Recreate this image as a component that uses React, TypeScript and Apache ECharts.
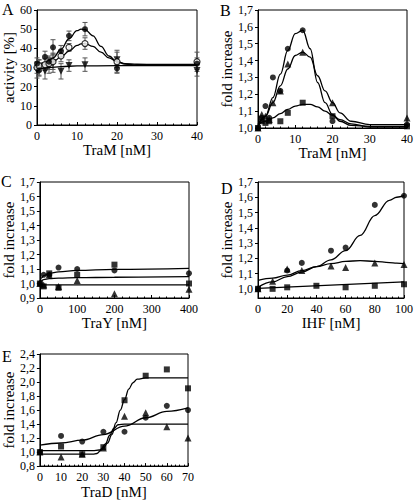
import React, { useEffect, useRef } from 'react';
import * as echarts from 'echarts';

// ---------- Panel A (activity vs TraM) ----------
const aX = [0, 0.5, 2, 3, 4, 6, 8, 12, 20, 40];
const aFilled = [32, 28.5, 35.5, 33, 40.5, 38.5, 46.5, 50, 29.5, 32];
const aFilledErr = [3, 3, 3, 3, 4, 3, 2.5, 3.5, 2, 3];
const aOpen = [30, 31, 31.5, 32, 33, 36, 40.5, 42.5, 33, 33];
const aOpenErr = [3, 3, 3, 3, 4, 3, 2, 3, 6, 5];
const aInv = [28.5, 30, 28, 31, 32.5, 28, 31, 31.5, 34, 28.5];
const aInvErr = [4, 4, 4, 4, 5, 4, 3, 3.5, 4, 3];
const aFitX = [0, 2, 4, 6, 8, 10, 11, 12, 14, 16, 18, 20, 22, 25, 30, 40];
const aFitFilled = [31.5, 32.5, 35, 39.5, 45, 49.2, 50, 49.8, 46.5, 41, 36, 33, 31.8, 31.3, 31.2, 31.2];
const aFitOpen = [30.5, 31.5, 33, 35.5, 38.5, 41.5, 42.3, 42.5, 41, 38, 35, 33, 32, 31.7, 31.6, 31.6];
const aFitInvX = [0, 3, 6, 10, 20, 40];
const aFitInv = [29, 30, 30.5, 30.8, 31, 31];

// ---------- Panel B (fold increase vs TraM) ----------
const bX = [0, 1, 2, 3, 4, 6, 8, 12, 20, 40];
const bCirc = [1.0, 1.06, 1.13, 1.06, 1.3, 1.22, 1.47, 1.58, 1.04, 1.02];
const bTri = [1.0, 1.08, 1.07, 1.05, 1.15, 1.22, 1.38, 1.45, 1.15, 1.06];
const bSq = [1.0, 1.04, 1.03, 1.04, null, 1.04, 1.09, 1.15, 1.07, 1.01];
const bFitX = [0, 2, 4, 6, 8, 10, 12, 14, 16, 18, 20, 22, 25, 30, 40];
const bFitCirc = [1.0, 1.07, 1.18, 1.32, 1.46, 1.56, 1.58, 1.47, 1.27, 1.15, 1.08, 1.04, 1.015, 1.01, 1.01];
const bFitTri = [1.02, 1.07, 1.15, 1.25, 1.35, 1.43, 1.45, 1.42, 1.31, 1.22, 1.15, 1.09, 1.04, 1.02, 1.02];
const bFitSq = [1.02, 1.04, 1.06, 1.085, 1.11, 1.13, 1.14, 1.14, 1.125, 1.1, 1.075, 1.05, 1.025, 1.005, 1.005];

// ---------- Panel C (fold increase vs TraY) ----------
const cX = [0, 10, 25, 50, 100, 200, 400];
const cCirc = [1.0, 1.06, 1.06, 1.11, 1.1, 1.09, 1.07];
const cSq = [1.0, 0.98, 1.07, 0.97, 1.06, 1.13, 1.0];
const cTri = [1.0, 0.99, 1.06, 0.98, 1.02, 0.93, 0.96];
const cFitX = [0, 5, 10, 25, 50, 100, 200, 400];
const cFitTop = [1.0, 1.04, 1.055, 1.07, 1.08, 1.09, 1.097, 1.105];
const cFitMid = [1.0, 1.02, 1.027, 1.033, 1.037, 1.04, 1.043, 1.047];
const cFitBotX = [0, 400];
const cFitBot = [0.99, 0.99];

// ---------- Panel D (fold increase vs IHF) ----------
const dX = [0, 10, 20, 30, 40, 50, 60, 80, 100];
const dCirc = [1.0, null, 1.12, 1.17, null, 1.25, 1.27, 1.55, 1.61];
const dTri = [1.0, 1.05, 1.13, 1.12, null, 1.15, 1.14, 1.17, 1.16];
const dSq = [1.0, 1.0, 1.01, null, 1.02, null, 1.01, 1.02, 1.03];
const dFitX = [0, 10, 20, 30, 40, 50, 60, 70, 80, 90, 95, 100];
const dFitCirc = [1.01, 1.045, 1.08, 1.11, 1.145, 1.19, 1.25, 1.35, 1.48, 1.58, 1.6, 1.61];
const dFitTri = [1.055, 1.07, 1.09, 1.12, 1.145, 1.165, 1.18, 1.185, 1.18, 1.172, 1.168, 1.165];
const dFitSqX = [0, 100];
const dFitSq = [1.003, 1.045];

// ---------- Panel E (fold increase vs TraD) ----------
const eX = [0, 10, 20, 30, 40, 50, 60, 70];
const eCirc = [1.0, 1.23, 1.15, 1.29, 1.29, 1.49, 1.66, 1.6];
const eSq = [1.0, 1.08, 0.97, 1.07, 1.74, 2.09, 2.18, 1.91];
const eTri = [1.0, 0.93, 0.97, 1.06, 1.51, 1.56, 1.36, 1.2];
const eFitSqX = [0, 25, 28, 30, 32, 34, 36, 38, 40, 42, 44, 46, 50, 70];
const eFitSq = [1.02, 1.02, 1.03, 1.06, 1.13, 1.25, 1.42, 1.6, 1.75, 1.9, 1.99, 2.04, 2.06, 2.06];
const eFitTriX = [0, 25, 27, 29, 31, 33, 35, 37, 40, 70];
const eFitTri = [0.97, 0.97, 0.98, 1.03, 1.12, 1.24, 1.34, 1.39, 1.4, 1.4];
const eFitCircX = [0, 10, 20, 30, 40, 50, 60, 70];
const eFitCirc = [1.1, 1.13, 1.17, 1.25, 1.37, 1.49, 1.58, 1.63];

const SERIF = 'Liberation Serif';
const fmt1 = (v: number) => v.toFixed(1).replace('.', ',');

const zip = (xs: number[], ys: (number | null)[]) =>
  xs.map((x, i) => [x, ys[i]]).filter((p) => p[1] !== null && p[1] !== undefined);

function xAxis(gi: number, min: number, max: number, interval: number, name: string, nameGap: number) {
  return {
    type: 'value', gridIndex: gi, min, max, interval, name,
    nameLocation: 'middle', nameGap,
    nameTextStyle: { fontFamily: SERIF, fontSize: 15, color: '#000' },
    axisLine: { show: true, onZero: false, lineStyle: { color: '#000', width: 1 } },
    axisTick: { show: true, inside: true, length: 3, lineStyle: { color: '#000' } },
    minorTick: { show: true, splitNumber: 5, length: 1.5, lineStyle: { color: '#000' } },
    splitLine: { show: false },
    axisLabel: { fontFamily: SERIF, fontSize: 12, color: '#000', margin: 5 },
  };
}

function yAxis(gi: number, min: number, max: number, interval: number | undefined, name: string, nameGap: number, comma: boolean, custom?: number[]) {
  const ax: any = {
    type: 'value', gridIndex: gi, min, max, name,
    nameLocation: 'middle', nameGap,
    nameTextStyle: { fontFamily: SERIF, fontSize: 15, color: '#000' },
    axisLine: { show: true, onZero: false, lineStyle: { color: '#000', width: 1 } },
    axisTick: { show: true, inside: false, length: 3, lineStyle: { color: '#000' } },
    splitLine: { show: false },
    axisLabel: {
      fontFamily: SERIF, fontSize: 12, color: '#000', margin: 5,
      formatter: comma ? (v: number) => fmt1(v) : (v: number) => String(Math.round(v)),
    },
  };
  if (interval !== undefined) ax.interval = interval;
  if (custom) {
    ax.axisLabel.customValues = custom;
    ax.axisTick.customValues = custom;
  }
  return ax;
}

const grids = [
  { left: 37, top: 10, width: 160, height: 115 },
  { left: 258, top: 10, width: 151, height: 118 },
  { left: 39, top: 182, width: 150, height: 116 },
  { left: 258, top: 182, width: 151, height: 116 },
  { left: 37, top: 354, width: 151, height: 116 },
].map((g) => ({ ...g, show: true, borderColor: '#000', borderWidth: 1, backgroundColor: 'transparent' }));

function scatter(gi: number, data: any[], kind: 'circle' | 'open' | 'tri' | 'inv' | 'sq') {
  const base: any = {
    type: 'scatter', xAxisIndex: gi, yAxisIndex: gi, data, z: 5,
    symbolSize: 6, itemStyle: { color: '#000' },
  };
  if (kind === 'circle') base.symbol = 'circle';
  if (kind === 'open') {
    base.symbol = 'circle';
    base.itemStyle = { color: '#fff', borderColor: '#000', borderWidth: 1.2 };
  }
  if (kind === 'tri') { base.symbol = 'triangle'; base.symbolSize = 7; }
  if (kind === 'inv') { base.symbol = 'triangle'; base.symbolRotate = 180; base.symbolSize = 7; }
  if (kind === 'sq') { base.symbol = 'rect'; base.symbolSize = 6; }
  return base;
}

function fit(gi: number, data: any[]) {
  return {
    type: 'line', xAxisIndex: gi, yAxisIndex: gi, data, smooth: 0.4, smoothMonotone: 'x',
    showSymbol: false, symbol: 'none', z: 3,
    lineStyle: { color: '#000', width: 1.3 },
  };
}

function errBars(gi: number, xs: number[], ys: number[], es: number[]) {
  return {
    type: 'custom', xAxisIndex: gi, yAxisIndex: gi, z: 2,
    data: xs.map((x, i) => [x, ys[i] - es[i], ys[i] + es[i]]),
    encode: { x: 0, y: [1, 2] },
    renderItem: (_p: any, api: any) => {
      const lo = api.coord([api.value(0), api.value(1)]);
      const hi = api.coord([api.value(0), api.value(2)]);
      const w = 2.5;
      const st = { stroke: '#555', lineWidth: 1 };
      return {
        type: 'group',
        children: [
          { type: 'line', shape: { x1: lo[0], y1: lo[1], x2: hi[0], y2: hi[1] }, style: st },
          { type: 'line', shape: { x1: lo[0] - w, y1: lo[1], x2: lo[0] + w, y2: lo[1] }, style: st },
          { type: 'line', shape: { x1: hi[0] - w, y1: hi[1], x2: hi[0] + w, y2: hi[1] }, style: st },
        ],
      };
    },
  };
}

function letter(text: string, x: number, y: number) {
  return { type: 'text', x, y, style: { text, fontFamily: SERIF, fontSize: 16, fill: '#000', verticalAlign: 'top' } };
}

export default function App() {
  const ref = useRef<HTMLDivElement>(null);
  useEffect(() => {
    if (!ref.current) return;
    const chart = echarts.init(ref.current, undefined, { renderer: 'svg' });
    const option: any = {
      animation: false,
      backgroundColor: '#fff',
      textStyle: { fontFamily: SERIF },
      grid: grids,
      xAxis: [
        xAxis(0, 0, 40, 10, 'TraM [nM]', 16),
        xAxis(1, 0, 40, 10, 'TraM [nM]', 12),
        xAxis(2, 0, 400, 100, 'TraY [nM]', 15),
        xAxis(3, 0, 100, 20, 'IHF [nM]', 15),
        xAxis(4, 0, 70, 10, 'TraD [nM]', 16),
      ],
      yAxis: [
        yAxis(0, 0, 60, 10, 'activity [%]', 20, false),
        yAxis(1, 1.0, 1.7, 0.1, 'fold increase', 23, true),
        yAxis(2, 0.9, 1.7, 0.1, 'fold increase', 21, true),
        yAxis(3, 0.94, 1.7, undefined, 'fold increase', 23, true, [1.0, 1.1, 1.2, 1.3, 1.4, 1.5, 1.6, 1.7]),
        yAxis(4, 0.8, 2.4, 0.2, 'fold increase', 23, true),
      ],
      graphic: [
        letter('A', 2, 1),
        letter('B', 220, 2),
        letter('C', 1, 173),
        letter('D', 221, 180),
        letter('E', 2, 348),
      ],
      series: [
        // A
        errBars(0, aX, aFilled, aFilledErr),
        errBars(0, aX, aOpen, aOpenErr),
        errBars(0, aX, aInv, aInvErr),
        fit(0, zip(aFitX, aFitFilled)),
        fit(0, zip(aFitX, aFitOpen)),
        fit(0, zip(aFitInvX, aFitInv)),
        scatter(0, zip(aX, aInv), 'inv'),
        scatter(0, zip(aX, aOpen), 'open'),
        scatter(0, zip(aX, aFilled), 'circle'),
        // B
        fit(1, zip(bFitX, bFitCirc)),
        fit(1, zip(bFitX, bFitTri)),
        fit(1, zip(bFitX, bFitSq)),
        scatter(1, zip(bX, bCirc), 'circle'),
        scatter(1, zip(bX, bTri), 'tri'),
        scatter(1, zip(bX, bSq), 'sq'),
        // C
        fit(2, zip(cFitX, cFitTop)),
        fit(2, zip(cFitX, cFitMid)),
        fit(2, zip(cFitBotX, cFitBot)),
        scatter(2, zip(cX, cCirc), 'circle'),
        scatter(2, zip(cX, cSq), 'sq'),
        scatter(2, zip(cX, cTri), 'tri'),
        // D
        fit(3, zip(dFitX, dFitCirc)),
        fit(3, zip(dFitX, dFitTri)),
        fit(3, zip(dFitSqX, dFitSq)),
        scatter(3, zip(dX, dCirc), 'circle'),
        scatter(3, zip(dX, dTri), 'tri'),
        scatter(3, zip(dX, dSq), 'sq'),
        // E
        fit(4, zip(eFitSqX, eFitSq)),
        fit(4, zip(eFitTriX, eFitTri)),
        fit(4, zip(eFitCircX, eFitCirc)),
        scatter(4, zip(eX, eCirc), 'circle'),
        scatter(4, zip(eX, eSq), 'sq'),
        scatter(4, zip(eX, eTri), 'tri'),
      ],
    };
    chart.setOption(option);
    return () => chart.dispose();
  }, []);
  return (
    <div
      ref={ref}
      style={{ position: 'absolute', left: 0, top: 0, width: 416, height: 500 }}
    />
  );
}
